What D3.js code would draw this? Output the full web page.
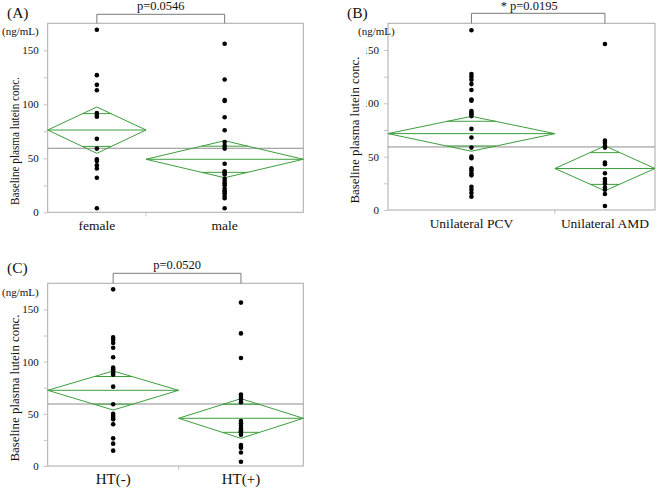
<!DOCTYPE html>
<html><head><meta charset="utf-8">
<script src="https://cdn.jsdelivr.net/npm/d3@7"></script>
<style>
body{margin:0;background:#fff}
svg{display:block}
text{font-family:"Liberation Serif","Times New Roman",serif;fill:#111}
</style>
</head><body>
<svg id="chart" width="658" height="488"></svg>
<script>
// ---------- shared ----------
const yMax = 175;
const yTickValues = [0, 25, 50, 75, 100, 125, 150];
const yLabelTicks = [0, 50, 100, 150];
const unitLabel = "(ng/mL)";
const yTitle = "Baseline plasma lutein conc.";

// ---------- Panel A ----------
const categoriesA = ["female", "male"];
const femaleValues = [169, 127, 118, 113, 92, 90, 88.5, 68, 59, 49, 47.5, 43.5, 40.5, 32, 3.7];
const maleValues = [156, 123, 104, 103, 88, 76, 65, 61.5, 59, 45, 38, 36.5, 35, 31, 29, 27, 25, 22, 20, 19, 17.5, 15, 13, 3.7];
const meanA = [76.2, 49.1];
const ciLowA = [54.6, 32.0];
const ciHighA = [97.5, 66.3];
const grandMeanA = 59.3;
const pTextA = "p=0.0546";

// ---------- Panel B ----------
const categoriesB = ["Unilateral PCV", "Unilateral AMD"];
const pcvValues = [168.5, 127.5, 125, 122, 118, 112.5, 103.5, 102.5, 92.7, 91.2, 89.8, 88, 76, 68, 58.5, 50, 48.5, 39, 37, 34.5, 32.5, 21.8, 19, 16, 12.4];
const amdValues = [155.6, 65, 63, 60, 58.5, 44.5, 43, 34.5, 29, 26.5, 24.5, 21, 19, 15, 3.7];
const meanB = [71.6, 38.9];
const ciLowB = [55.1, 18.0];
const ciHighB = [87.8, 60.1];
const grandMeanB = 59.1;
const pTextB = "* p=0.0195";

// ---------- Panel C ----------
const categoriesC = ["HT(-)", "HT(+)"];
const htNegValues = [169.2, 123.2, 120.7, 117.8, 113.3, 104.1, 94.2, 92.6, 91, 89.4, 87.5, 76, 59.1, 50.1, 48.2, 46.3, 44.7, 40, 26.5, 21.4, 14.7];
const htPosValues = [156.5, 127, 103.5, 68.5, 66, 64, 61, 43, 41, 38.5, 36, 34, 33, 32, 30, 20, 18.5, 17.5, 13, 4];
const meanC = [72.5, 45.7];
const ciLowC = [53.6, 26.5];
const ciHighC = [91.0, 64.5];
const grandMeanC = 59.4;
const pTextC = "p=0.0520";

const panels = [
  {letter:"(A)", cats:categoriesA, values:[femaleValues, maleValues], mean:meanA, lo:ciLowA, hi:ciHighA, grand:grandMeanA, p:pTextA,
   box:{l:47.7, r:303.3, t:23.3, b:212.3}, letterPos:[7,18], unitPos:[2,35], titleX:15, titleY:141, titleLen:128,
   bracketY:14.3, pY:10, pDx:0, catY:230, catSize:13.5, clipLabels:false},
  {letter:"(B)", cats:categoriesB, values:[pcvValues, amdValues], mean:meanB, lo:ciLowB, hi:ciHighB, grand:grandMeanB, p:pTextB,
   box:{l:388, r:655, t:23.3, b:210}, letterPos:[347,18], unitPos:[358,35], titleX:355, titleY:130, titleLen:147,
   bracketY:13.3, pY:9.5, pDx:-9, catY:228, catSize:13.5, clipLabels:true},
  {letter:"(C)", cats:categoriesC, values:[htNegValues, htPosValues], mean:meanC, lo:ciLowC, hi:ciHighC, grand:grandMeanC, p:pTextC,
   box:{l:47.7, r:303.3, t:283.3, b:466}, letterPos:[7,273], unitPos:[2,296], titleX:15, titleY:388, titleLen:147,
   bracketY:273.3, pY:269, pDx:0, catY:484, catSize:15, clipLabels:false}
];

const svg = d3.select("#chart");
const green = "#3c9e3c";
const frameColor = "#a9a9a9";

// clip in the axis group's local coordinates (x relative to the plot's left edge)
svg.append("defs").append("clipPath").attr("id","clipB")
  .append("rect").attr("x",-22.0).attr("y",0).attr("width",40).attr("height",240);

panels.forEach((P, pi) => {
  const {l, r, t, b} = P.box;
  const g = svg.append("g");
  const counts = P.values.map(v => v.length);
  const cum = [0];
  counts.forEach((c,i) => cum.push(cum[i] + c));
  const x = d3.scaleLinear().domain([0, cum[cum.length-1]]).range([l, r]);
  const y = d3.scaleLinear().domain([0, yMax]).range([b, t]);
  const centers = counts.map((c,i) => x(cum[i] + c/2));

  // frame
  g.append("rect").attr("x",l).attr("y",t).attr("width",r-l).attr("height",b-t)
    .attr("fill","none").attr("stroke",frameColor).attr("stroke-width",1);

  // left axis
  const axis = d3.axisLeft(y).tickValues(yTickValues).tickSize(4).tickPadding(5)
    .tickFormat(d => yLabelTicks.includes(d) ? d : "");
  const ax = g.append("g").attr("transform",`translate(${l},0)`).call(axis)
    .attr("font-family","Liberation Serif").attr("font-size",11);
  ax.select(".domain").remove();
  ax.selectAll(".tick line").attr("stroke","#c4c4c4");
  ax.selectAll(".tick text").attr("fill","#222");
  if (P.clipLabels) ax.attr("clip-path","url(#clipB)");

  // bottom category divider tick
  for (let i = 1; i < counts.length; i++) {
    g.append("line").attr("x1",x(cum[i])).attr("x2",x(cum[i])).attr("y1",b).attr("y2",b+4)
      .attr("stroke","#c4c4c4");
  }

  // grand mean
  g.append("line").attr("x1",l).attr("x2",r).attr("y1",y(P.grand)).attr("y2",y(P.grand))
    .attr("stroke","#8c8c8c").attr("stroke-width",1);

  // diamonds
  counts.forEach((c,i) => {
    const x0 = x(cum[i]), x1 = x(cum[i+1]), xc = (x0+x1)/2, hw = (x1-x0)/2;
    const m = P.mean[i], lo = P.lo[i], hi = P.hi[i];
    const dg = g.append("g").attr("stroke",green).attr("stroke-width",1).attr("fill","none");
    dg.append("path").attr("d",`M${x0},${y(m)}L${xc},${y(hi)}L${x1},${y(m)}L${xc},${y(lo)}Z`);
    dg.append("line").attr("x1",x0).attr("x2",x1).attr("y1",y(m)).attr("y2",y(m));
    const half = (hi - lo)/2, ov = half/Math.SQRT2;
    const w = hw*(1 - 1/Math.SQRT2);
    [m+ov, m-ov].forEach(v => {
      dg.append("line").attr("x1",xc-w).attr("x2",xc+w).attr("y1",y(v)).attr("y2",y(v));
    });
  });

  // points
  P.values.forEach((vals,i) => {
    g.selectAll(null).data(vals).enter().append("circle")
      .attr("cx",centers[i]).attr("cy",d => y(d)).attr("r",2.3).attr("fill","#000");
  });

  // bracket
  g.append("path").attr("d",`M${centers[0]},${t}V${P.bracketY}H${centers[1]}V${t}`)
    .attr("fill","none").attr("stroke","#7a7a7a").attr("stroke-width",1);
  g.append("text").attr("x",(centers[0]+centers[1])/2 + P.pDx).attr("y",P.pY)
    .attr("text-anchor","middle").attr("font-size",12.5).text(P.p);

  // category labels
  P.cats.forEach((c,i) => {
    g.append("text").attr("x",centers[i]).attr("y",P.catY).attr("text-anchor","middle")
      .attr("font-size",P.catSize).text(c);
  });

  // panel letter
  g.append("text").attr("x",P.letterPos[0]).attr("y",P.letterPos[1]).attr("font-size",15.5).text(P.letter);
  // unit
  g.append("text").attr("x",P.unitPos[0]).attr("y",P.unitPos[1]).attr("font-size",11).text(unitLabel);
  // y title
  g.append("text").attr("transform",`translate(${P.titleX + 4},${P.titleY}) rotate(-90)`)
    .attr("text-anchor","middle").attr("font-size",13)
    .attr("textLength",P.titleLen).attr("lengthAdjust","spacingAndGlyphs").text(yTitle);
});
</script>
</body></html>
